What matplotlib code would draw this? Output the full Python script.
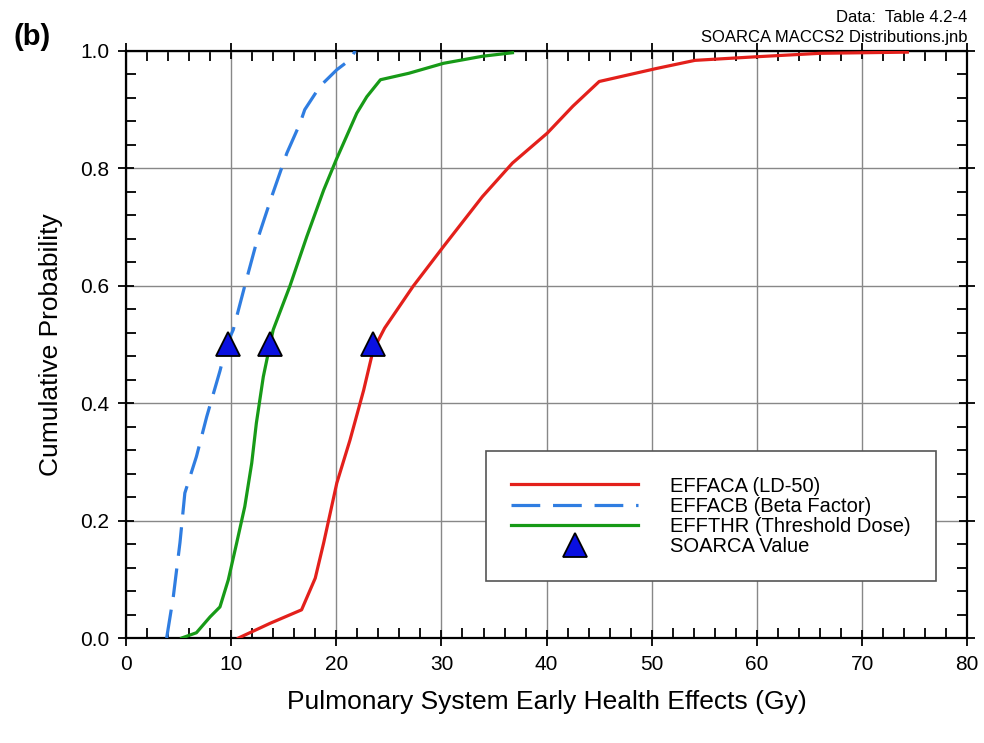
import numpy as np
import matplotlib.pyplot as plt
from matplotlib.ticker import MultipleLocator

# EFFACA (LD-50)
effaca_x = [10.7, 13.7, 16.7, 18.0, 18.8, 20.05, 21.3, 22.6, 23.5, 24.6, 27.3, 30.2,
            33.9, 36.75, 40.06, 42.5, 45.0, 50.4, 54.1, 59.8, 66.0, 74.3]
effaca_y = [0.0, 0.025, 0.048, 0.102, 0.162, 0.264, 0.337, 0.422, 0.49, 0.528, 0.599, 0.667,
            0.752, 0.809, 0.860, 0.906, 0.948, 0.970, 0.984, 0.990, 0.996, 0.998]

# EFFACB (Beta Factor)
effacb_x = [3.87, 4.5, 5.14, 5.6, 6.7, 7.68, 8.94, 9.58, 10.2, 11.3, 12.4, 13.86, 15.3,
            16.56, 17.0, 18.46, 20.05, 21.3, 21.8]
effacb_y = [0.0, 0.07, 0.163, 0.247, 0.309, 0.377, 0.455, 0.50, 0.525, 0.60, 0.673, 0.752,
            0.826, 0.877, 0.90, 0.94, 0.968, 0.985, 1.0]

# EFFTHR (Threshold Dose)
effthr_x = [5.3, 6.7, 8.0, 8.94, 9.73, 10.53, 11.3, 11.96, 12.4, 13.06, 13.7, 14.0, 15.6,
            17.2, 18.8, 20.0, 21.95, 22.9, 24.2, 26.9, 30.2, 33.9, 36.75]
effthr_y = [0.0, 0.009, 0.036, 0.053, 0.099, 0.162, 0.224, 0.298, 0.366, 0.445, 0.50, 0.525, 0.60,
            0.684, 0.763, 0.815, 0.894, 0.922, 0.951, 0.962, 0.979, 0.991, 0.997]

# SOARCA values
soarca_x = [9.7, 13.7, 23.5]
soarca_y = [0.5, 0.5, 0.5]

plt.rcParams['font.family'] = ['Liberation Sans', 'DejaVu Sans']

fig = plt.figure(figsize=(9.84, 7.43), dpi=100)
ax = fig.add_axes([0.128, 0.1413, 0.855, 0.7901])

ax.plot(effaca_x, effaca_y, color='#e3201b', lw=2.3, label='EFFACA (LD-50)', zorder=3)
ax.plot(effacb_x, effacb_y, color='#2f7de1', lw=2.3, dashes=(9, 4),
        label='EFFACB (Beta Factor)', zorder=3)
ax.plot(effthr_x, effthr_y, color='#179a17', lw=2.3, label='EFFTHR (Threshold Dose)', zorder=3)
ax.plot(soarca_x, soarca_y, ls='none', marker='^', ms=17, mfc='#0a10e0', mec='black',
        mew=1.3, label='SOARCA Value', zorder=4, clip_on=False)

ax.set_xlim(0, 80)
ax.set_ylim(0, 1.0)
ax.xaxis.set_major_locator(MultipleLocator(10))
ax.xaxis.set_minor_locator(MultipleLocator(2))
ax.yaxis.set_major_locator(MultipleLocator(0.2))
ax.yaxis.set_minor_locator(MultipleLocator(0.04))
ax.yaxis.set_major_formatter(plt.FuncFormatter(lambda v, p: f"{v:.1f}"))

ax.grid(True, which='major', color='#888888', lw=1.0)
ax.tick_params(which='major', direction='inout', length=12, width=1.3,
               top=True, right=True, labelsize=15, pad=6)
ax.tick_params(which='minor', direction='in', length=7, width=1.3, top=True, right=True)
for s in ax.spines.values():
    s.set_linewidth(1.6)

ax.set_xlabel('Pulmonary System Early Health Effects (Gy)', fontsize=19, labelpad=12)
ax.set_ylabel('Cumulative Probability', fontsize=19, labelpad=12)

leg = ax.legend(loc='upper left', bbox_to_anchor=(0.428, 0.318), fontsize=14.5,
                handlelength=6.3, handletextpad=1.6, borderpad=1.25, labelspacing=0.06,
                fancybox=False, framealpha=1, edgecolor='#555555', borderaxespad=0)
leg.get_frame().set_linewidth(1.2)

fig.text(0.014, 0.94, '(b)', fontsize=21, fontweight='bold')
fig.text(0.983, 0.976, 'Data:  Table 4.2-4', fontsize=12, ha='right', va='center')
fig.text(0.983, 0.949, 'SOARCA MACCS2 Distributions.jnb', fontsize=12, ha='right', va='center')

fig.savefig('out.png', dpi=100)
